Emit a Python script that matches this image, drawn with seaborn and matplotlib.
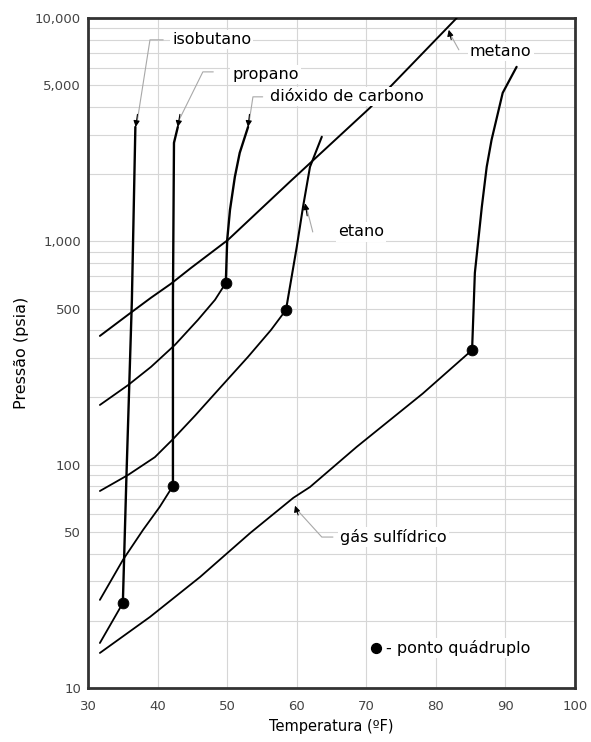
import numpy as np
import pandas as pd
import matplotlib
matplotlib.use("Agg")
import matplotlib.pyplot as plt
from matplotlib.ticker import FixedLocator, NullFormatter
import seaborn as sns

sns.set_style("white")
plt.rcParams["font.family"] = ["DejaVu Sans"]
plt.rcParams["text.color"] = "black"
plt.rcParams["axes.labelcolor"] = "black"

# hydrate curves (T in degF, P in psia)
isobutane_low_T = [31.7, 35.0]
isobutane_low_P = [15.9, 24.0]
isobutane_up_T = [35.0, 35.5, 36.3, 36.8]
isobutane_up_P = [24.0, 85, 546, 3250]

propane_low_T = [31.7, 35.0, 37.9, 40.3, 42.2]
propane_low_P = [24.8, 37.4, 51.0, 64.7, 80.3]
propane_up_T = [42.2, 42.2, 42.35, 42.9]
propane_up_P = [80.3, 546, 2760, 3250]

co2_low_T = [31.7, 35.75, 39.05, 42.5, 45.8, 48.25, 49.8]
co2_low_P = [185, 227, 274, 344, 445, 547, 651]
co2_up_T = [49.8, 50.0, 50.4, 51.1, 51.8, 53.0]
co2_up_P = [651, 1014, 1382, 1942, 2489, 3250]

ethane_low_T = [31.7, 35.75, 39.6, 42.2, 45.4, 49.1, 53.0, 56.3, 58.45]
ethane_low_P = [76.2, 89.9, 108, 130, 166, 223, 304, 401, 493]
ethane_up_T = [58.45, 60.0, 60.9, 61.9, 63.6]
ethane_up_P = [493, 944, 1426, 2153, 2938]

methane_T = [31.7, 35.75, 39.05, 41.9, 44.8, 50.1, 59.0, 70.5, 74.4, 83.0]
methane_P = [377, 469, 559, 645, 760, 1014, 1846, 3955, 5285, 10000]

h2s_low_T = [31.7, 38.9, 46.1, 53.3, 59.5, 61.9, 68.6, 78.1, 85.2]
h2s_low_P = [14.35, 20.8, 31.4, 49.4, 71.0, 79.4, 120, 208, 326]
h2s_up_T = [85.2, 85.6, 86.6, 87.3, 88.0, 89.6, 91.6]
h2s_up_P = [326, 722, 1426, 2153, 2845, 4619, 6040]

quad_T = [35.0, 42.2, 49.8, 58.45, 85.2]
quad_P = [24.0, 80.3, 651, 493, 326]

x_ticks = [30, 40, 50, 60, 70, 80, 90, 100]
y_ticks = [10, 50, 100, 500, 1000, 5000, 10000]
y_tick_labels = ["10", "50", "100", "500", "1,000", "5,000", "10,000"]

segments = {
    "isobutano_inf": (isobutane_low_T, isobutane_low_P, 1.3),
    "isobutano_sup": (isobutane_up_T, isobutane_up_P, 1.7),
    "propano_inf": (propane_low_T, propane_low_P, 1.3),
    "propano_sup": (propane_up_T, propane_up_P, 1.7),
    "co2_inf": (co2_low_T, co2_low_P, 1.3),
    "co2_sup": (co2_up_T, co2_up_P, 1.7),
    "etano_inf": (ethane_low_T, ethane_low_P, 1.3),
    "etano_sup": (ethane_up_T, ethane_up_P, 1.5),
    "metano": (methane_T, methane_P, 1.4),
    "h2s_inf": (h2s_low_T, h2s_low_P, 1.3),
    "h2s_sup": (h2s_up_T, h2s_up_P, 1.6),
}

fig = plt.figure(figsize=(5.91, 7.42), dpi=100)
ax = fig.add_axes([0.149, 0.0728, 0.824, 0.903])

for name, (T, P, lw) in segments.items():
    df = pd.DataFrame({"T": T, "P": P})
    sns.lineplot(data=df, x="T", y="P", sort=False, estimator=None,
                 color="black", linewidth=lw, ax=ax, zorder=3)

sns.scatterplot(x=quad_T, y=quad_P, color="black", s=60, edgecolor="black",
                ax=ax, zorder=4)

ax.set_yscale("log")
ax.set_xlim(30, 100)
ax.set_ylim(10, 10000)
ax.xaxis.set_major_locator(FixedLocator(x_ticks))
ax.yaxis.set_major_locator(FixedLocator(y_ticks))
ax.set_yticklabels(y_tick_labels)
minor = [m * 10 ** e for e in range(1, 4) for m in range(1, 10)]
ax.yaxis.set_minor_locator(FixedLocator(minor))
ax.yaxis.set_minor_formatter(NullFormatter())
ax.grid(True, which="both", axis="y", color="#d6d6d6", linewidth=0.8, zorder=0)
ax.grid(True, which="major", axis="x", color="#d6d6d6", linewidth=0.8, zorder=0)
ax.tick_params(axis="both", which="both", length=0, labelsize=9.5,
               labelcolor="#444444")
ax.tick_params(axis="x", pad=9)
ax.tick_params(axis="y", pad=5)
for s in ax.spines.values():
    s.set_color("#333333")
    s.set_linewidth(2)

ax.set_xlabel("Temperatura (ºF)", fontsize=10.5, labelpad=4)
ax.set_ylabel("Pressão (psia)", fontsize=11.5, labelpad=4)

box = dict(facecolor="white", edgecolor="none", pad=1.5)
lead = dict(color="#a8a8a8", linewidth=0.8, zorder=2)


def leader(pts):
    xs, ys = zip(*pts)
    ax.plot(xs, ys, **lead)


def head(tip, tail):
    ax.annotate("", xy=tip, xytext=tail, zorder=5,
                arrowprops=dict(arrowstyle="-|>", color="black", lw=0.8,
                                mutation_scale=9, shrinkA=0, shrinkB=0))


labels = [
    ("isobutano", 42.1, 7980),
    ("propano", 50.7, 5560),
    ("dióxido de carbono", 56.1, 4434),
    ("metano", 84.9, 7050),
    ("etano", 65.9, 1101),
    ("gás sulfídrico", 66.2, 47.4),
]
for txt, tx, ty in labels:
    ax.text(tx, ty, txt, fontsize=11.5, ha="left", va="center", bbox=box,
            color="black", zorder=6)

leader([(40.8, 7980), (38.9, 7980), (37.1, 3500)])
head((36.85, 3250), (37.1, 3700))
leader([(48.0, 5735), (46.5, 5735), (43.1, 3500)])
head((42.9, 3250), (43.2, 3700))
leader([(55.1, 4434), (53.7, 4434), (53.2, 3500)])
head((53.0, 3250), (53.2, 3700))
leader([(83.3, 7200), (82.2, 8300)])
head((81.85, 8850), (82.2, 8000))
leader([(62.3, 1101), (61.5, 1380)])
head((61.2, 1480), (61.5, 1300))
leader([(65.2, 47.4), (63.6, 47.4), (60.3, 61.5)])
head((59.75, 65.5), (60.2, 59.5))

ax.scatter([71.4], [15.1], color="black", s=50, zorder=6)
ax.text(72.8, 15.1, "- ponto quádruplo", fontsize=11.5, ha="left",
        va="center", bbox=box, color="black", zorder=6)

fig.savefig("out.png", dpi=100)
